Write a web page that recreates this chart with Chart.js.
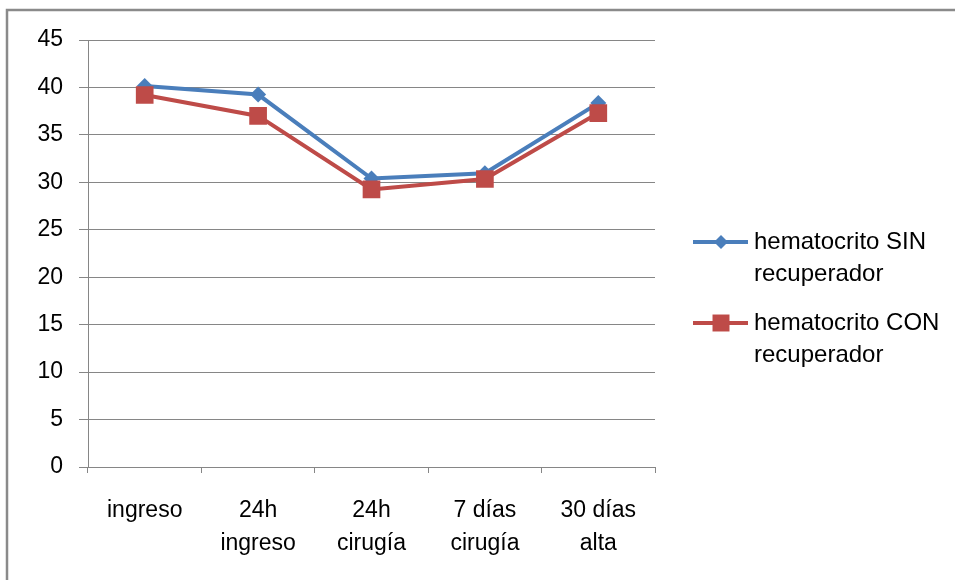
<!DOCTYPE html>
<html>
<head>
<meta charset="utf-8">
<script src="https://cdn.jsdelivr.net/npm/chart.js@4/dist/chart.umd.min.js"></script>
<style>
  html, body { margin: 0; padding: 0; background: #fff; }
  #wrap { width: 955px; height: 580px; position: relative; }
</style>
</head>
<body>
<div id="wrap"><canvas id="chart" width="955" height="580"></canvas></div>
<script>
const categories = ['ingreso', ['24h', 'ingreso'], ['24h', 'cirugía'], ['7 días', 'cirugía'], ['30 días', 'alta']];
const sinValues = [40.15, 39.25, 30.4, 30.95, 38.35];
const conValues = [39.2, 37.0, 29.25, 30.35, 37.3];
const seriesNames = [['hematocrito SIN', 'recuperador'], ['hematocrito CON', 'recuperador']];
const yTicks = [0, 5, 10, 15, 20, 25, 30, 35, 40, 45];

const FONT = '"Liberation Sans", Arial, sans-serif';
const GRID = '#868686';

// frame + two-line legend on the right
const extras = {
    id: 'extras',
    afterDraw(chart) {
        const ctx = chart.ctx;
        ctx.save();
        ctx.strokeStyle = '#8a8a8a';
        ctx.lineWidth = 2.5;
        ctx.strokeRect(7, 10, 1000, 1000);

        const rows = [242, 323];
        chart.data.datasets.forEach((ds, i) => {
            const y = rows[i];
            ctx.strokeStyle = ds.borderColor;
            ctx.lineWidth = 4;
            ctx.beginPath();
            ctx.moveTo(693, y);
            ctx.lineTo(748, y);
            ctx.stroke();
            ctx.fillStyle = ds.backgroundColor;
            Chart.helpers.drawPoint(ctx, {
                pointStyle: ds.pointStyle,
                radius: ds.legendRadius,
                borderWidth: 0
            }, 721, y);
            ctx.fillStyle = '#000';
            ctx.font = '24px ' + FONT;
            ctx.textBaseline = 'middle';
            ctx.textAlign = 'left';
            seriesNames[i].forEach((line, j) => {
                ctx.fillText(line, 754, y + j * 32);
            });
        });
        ctx.restore();
    }
};

new Chart(document.getElementById('chart'), {
    type: 'line',
    data: {
        labels: categories,
        datasets: [{
            label: seriesNames[0].join(' '),
            data: sinValues,
            borderColor: '#4a7ebb',
            backgroundColor: '#4a7ebb',
            borderWidth: 4,
            pointStyle: 'rectRot',
            pointRadius: 8,
            pointBorderWidth: 0,
            legendRadius: 7,
            tension: 0,
            order: 1,
        }, {
            label: seriesNames[1].join(' '),
            data: conValues,
            borderColor: '#be4b48',
            backgroundColor: '#be4b48',
            borderWidth: 4,
            pointStyle: 'rect',
            pointRadius: 12.5,
            pointBorderWidth: 0,
            legendRadius: 12,
            tension: 0,
            order: 0,
        }],
    },
    options: {
        responsive: false,
        animation: false,
        layout: {
            padding: { top: 40, right: 300, left: 0, bottom: 0 },
        },
        scales: {
            x: {
                offset: true,
                grid: {
                    offset: true,
                    drawOnChartArea: false,
                    tickLength: 6,
                    color: GRID,
                },
                border: { color: GRID },
                ticks: {
                    color: '#000',
                    padding: 22,
                    maxRotation: 0,
                    font: { family: FONT, size: 23, lineHeight: 1.4 },
                },
                afterFit(scale) { scale.height = 113; },
            },
            y: {
                min: 0,
                max: 45,
                afterBuildTicks(scale) { scale.ticks = yTicks.map(v => ({ value: v })); },
                grid: { color: GRID, tickLength: 9 },
                border: { color: GRID },
                ticks: {
                    color: '#000',
                    padding: 16,
                    font: { family: FONT, size: 23 },
                },
                afterFit(scale) { scale.width = 88; },
            },
        },
        plugins: {
            legend: { display: false },
            tooltip: { enabled: false },
        },
    },
    plugins: [extras],
});
</script>
</body>
</html>
